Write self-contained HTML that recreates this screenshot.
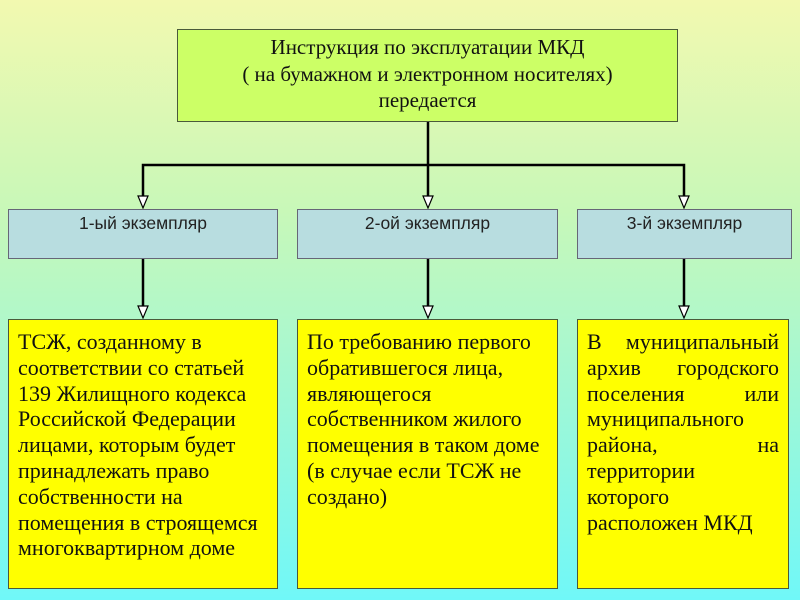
<!DOCTYPE html>
<html><head><meta charset="utf-8"><style>
body{margin:0;width:800px;height:600px;overflow:hidden;position:relative;background:linear-gradient(#f2f9b0 0%,#c8f8b8 35%,#a8f8d0 60%,#70f8f8 100%);font-family:"Liberation Serif",serif}
.b{position:absolute;box-sizing:border-box;border:1px solid #4a5a3a}
.top{left:177px;top:29px;width:501px;height:93px;background:#ccff66;text-align:center;font-size:21px;line-height:26.5px;padding-top:4px;color:#111}
.m{top:209px;height:50px;background:#b8dde0;text-align:center;font-family:"Liberation Sans",sans-serif;font-size:17.5px;padding-top:3px;color:#222;border-color:#667}
.y{top:319px;height:270px;background:#ffff00;font-size:22px;line-height:25.8px;padding:9px 8px 0 9px;text-align:left;color:#111;white-space:nowrap;overflow:hidden}
.j{text-align:justify;text-align-last:justify}
</style></head><body>
<svg width="800" height="600" style="position:absolute;left:0;top:0">
<g stroke="#000" stroke-width="2.5" fill="none">
<line x1="428" y1="122" x2="428" y2="197"/>
<polyline points="143,197 143,165 684,165 684,197"/>
<line x1="143" y1="259" x2="143" y2="307"/>
<line x1="428" y1="259" x2="428" y2="307"/>
<line x1="684" y1="259" x2="684" y2="307"/>
</g>
<g fill="#fff" stroke="#000" stroke-width="1.2">
<polygon points="138,196 148,196 143,208"/><polygon points="423,196 433,196 428,208"/><polygon points="679,196 689,196 684,208"/>
<polygon points="138,306 148,306 143,318"/><polygon points="423,306 433,306 428,318"/><polygon points="679,306 689,306 684,318"/>
</g></svg>
<div class="b top">Инструкция по эксплуатации МКД<br>( на бумажном и электронном носителях)<br>передается</div>
<div class="b m" style="left:8px;width:270px">1-ый экземпляр</div>
<div class="b m" style="left:297px;width:261px">2-ой экземпляр</div>
<div class="b m" style="left:577px;width:215px">3-й экземпляр</div>
<div class="b y" style="left:8px;width:270px">ТСЖ, созданному в<br>соответствии со статьей<br>139 Жилищного кодекса<br>Российской Федерации<br>лицами, которым будет<br>принадлежать право<br>собственности на<br>помещения в строящемся<br>многоквартирном доме</div>
<div class="b y" style="left:297px;width:261px">По требованию первого<br>обратившегося лица,<br>являющегося<br>собственником жилого<br>помещения в таком доме<br>(в случае если ТСЖ не<br>создано)</div>
<div class="b y" style="left:577px;width:212px;padding-right:9px"><div class="j">В муниципальный</div><div class="j">архив городского</div><div class="j">поселения или</div><div>муниципального</div><div class="j">района, на</div><div>территории</div><div>которого</div><div>расположен МКД</div></div>
</body></html>
